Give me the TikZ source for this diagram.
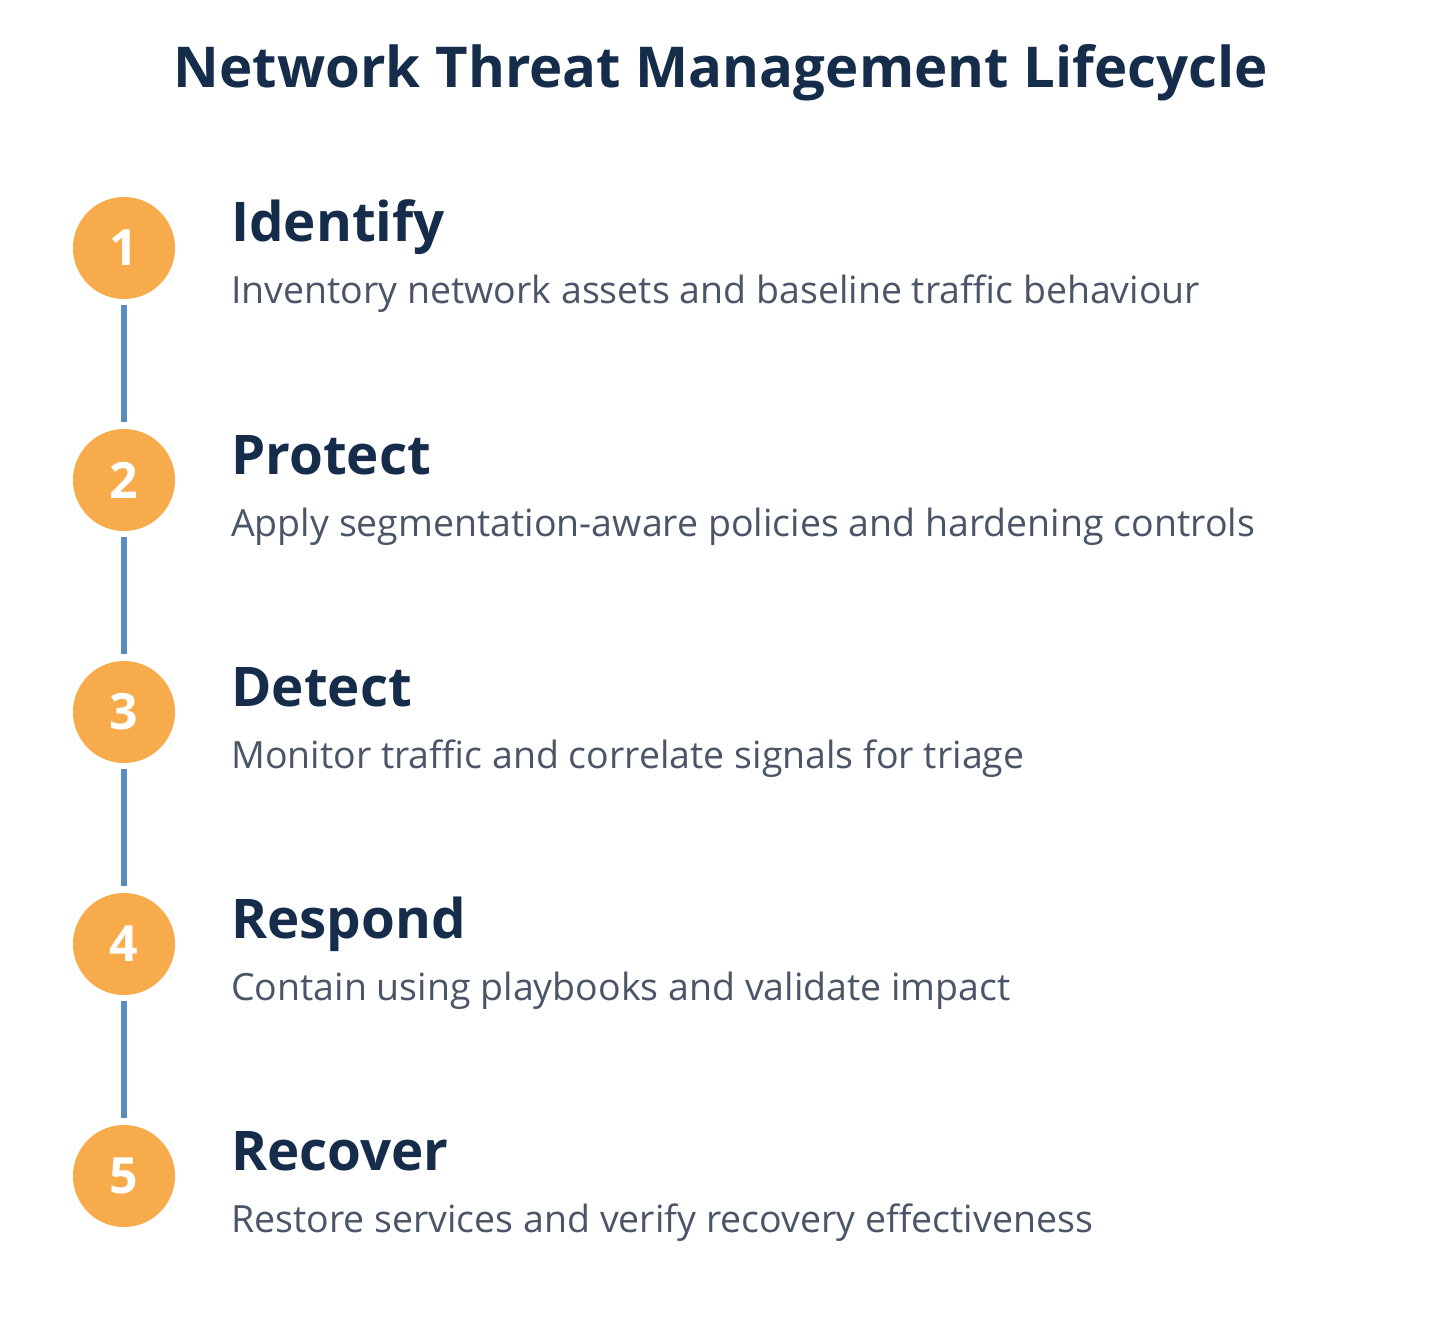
\documentclass[tikz,border=0pt]{standalone}
\usepackage{fontspec}
\setmainfont{Open Sans}
\definecolor{navy}{HTML}{152D4A}
\definecolor{orng}{HTML}{F7AB4A}
\definecolor{greytext}{HTML}{4A5568}
\definecolor{linkblue}{HTML}{5B8BC0}
\begin{document}
\begin{tikzpicture}[x=1pt,y=-1pt,
  titletext/.style={font=\fontsize{56.3}{60}\selectfont\bfseries, text=navy, inner sep=0, anchor=base},
  headtext/.style={font=\fontsize{54.7}{60}\selectfont\bfseries, text=navy, inner sep=0, anchor=base west},
  desctext/.style={font=\fontsize{37.5}{40}\selectfont, text=greytext, inner sep=0, anchor=base west},
  stepcircle/.style={circle, fill=orng, minimum size=102pt, inner sep=0, text=white, font=\fontsize{50}{50}\selectfont\bfseries},
  link/.style={draw=linkblue, line width=6pt}]
\useasboundingbox (0,0) rectangle (1440,1324);
\fill[white] (0,0) rectangle (1440,1324);
\node[titletext] (title) at (721,88) {Network Threat Management Lifecycle};
\foreach \i/\h/\d in {1/Identify/Inventory network assets and baseline traffic behaviour,
  2/Protect/Apply segmentation-aware policies and hardening controls,
  3/Detect/Monitor traffic and correlate signals for triage,
  4/Respond/Contain using playbooks and validate impact,
  5/Recover/Restore services and verify recovery effectiveness}{
  \node[stepcircle] (c\i) at (124,{248+232*(\i-1)}) {\i};
  \node[headtext] (h\i) at (231,{242+232*(\i-1)}) {\h};
  \node[desctext] (d\i) at (231,{304+232*(\i-1)}) {\d};
}
\foreach \a/\b in {1/2,2/3,3/4,4/5}{
  \draw[link] ([yshift=-6pt]c\a.south) -- ([yshift=7pt]c\b.north);
}
\end{tikzpicture}
\end{document}
